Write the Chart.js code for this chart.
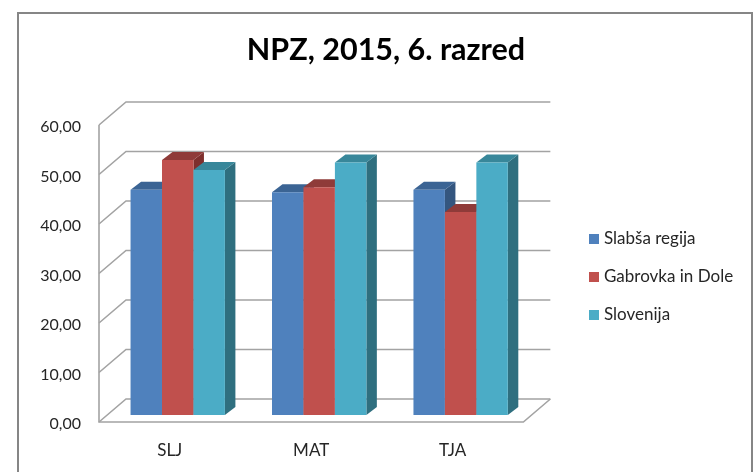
<!DOCTYPE html>
<html><head><meta charset="utf-8">
<style>html,body{margin:0;padding:0;background:#fff}canvas{display:block}</style>
<script src="https://cdn.jsdelivr.net/npm/chart.js@4"></script>
</head><body><canvas id="c" width="753" height="472"></canvas>
<script>
const categories = ['SLJ','MAT','TJA'];
const seriesNames = ['Slabša regija','Gabrovka in Dole','Slovenija'];
const slabsaRegija = [45.5,45.0,45.5];
const gabrovkaInDole = [51.5,46.0,41.0];
const slovenija = [49.5,51.0,51.0];
const frontColors = ['#4F81BD','#C0504D','#4BACC6'];
const topColors = ['#3B6494','#8F3B39','#38879A'];
const sideColors = ['#34567F','#7E2F2D','#2F6F7F'];

const WALL_DX = 27, WALL_DY = -23;
const BAR_DX = 8, BAR_DY = -7;
const DEPTH_DX = 10.5, DEPTH_DY = -8;
const GRID = '#A3A3A3', TEXT = '#262626', FONT = 'Lato';

function legendSwatch(color) {
  const s = document.createElement('canvas');
  s.width = 10; s.height = 10;
  const g = s.getContext('2d');
  g.fillStyle = color; g.fillRect(0, 0, 10, 10);
  return s;
}

const depth3d = {
  id: 'depth3d',
  afterLayout(chart) {
    const l = chart.legend;
    l.left = 571.5; l.right = 753; l.top = 209; l.bottom = 472;
    const t = chart.titleBlock;
    t.left = 0; t.right = 772;
  },
  beforeDraw(chart) {
    const c = chart.ctx;
    c.save();
    c.strokeStyle = '#868686'; c.lineWidth = 2;
    c.beginPath();
    c.moveTo(18, 472); c.lineTo(18, 13); c.lineTo(752, 13); c.lineTo(752, 472);
    c.stroke();
    c.restore();
  },
  beforeDatasetsDraw(chart) {
    const c = chart.ctx, a = chart.chartArea, y = chart.scales.y;
    c.save();
    c.strokeStyle = GRID; c.lineWidth = 1.6;
    y.ticks.forEach(t => {
      const py = y.getPixelForValue(t.value);
      c.beginPath();
      c.moveTo(a.left, py);
      c.lineTo(a.left + WALL_DX, py + WALL_DY);
      c.lineTo(a.right + WALL_DX, py + WALL_DY);
      c.stroke();
    });
    c.beginPath();
    c.moveTo(a.left, a.top); c.lineTo(a.left, a.bottom); c.lineTo(a.right, a.bottom);
    c.lineTo(a.right + WALL_DX, a.bottom + WALL_DY);
    c.stroke();
    c.restore();
    // Painter's order: left-most series first, so later bars overlap its side face.
    chart.data.datasets.forEach((ds, i) => {
      const meta = chart.getDatasetMeta(i);
      c.save();
      c.translate(BAR_DX, BAR_DY);
      meta.data.forEach(b => {
        const l = b.x - b.width / 2, r = b.x + b.width / 2;
        c.fillStyle = sideColors[i];
        c.beginPath();
        c.moveTo(r, b.y); c.lineTo(r + DEPTH_DX, b.y + DEPTH_DY);
        c.lineTo(r + DEPTH_DX, b.base + DEPTH_DY); c.lineTo(r, b.base);
        c.closePath(); c.fill();
        c.fillStyle = topColors[i];
        c.beginPath();
        c.moveTo(l, b.y); c.lineTo(l + DEPTH_DX, b.y + DEPTH_DY);
        c.lineTo(r + DEPTH_DX, b.y + DEPTH_DY); c.lineTo(r, b.y);
        c.closePath(); c.fill();
      });
      meta.controller.draw();
      c.restore();
    });
  },
  beforeDatasetDraw() { return false; }
};

new Chart(document.getElementById('c'), {
  type: 'bar',
  plugins: [depth3d],
  data: {
    labels: categories,
    datasets: [
      {label: seriesNames[0], data: slabsaRegija, backgroundColor: frontColors[0]},
      {label: seriesNames[1], data: gabrovkaInDole, backgroundColor: frontColors[1]},
      {label: seriesNames[2], data: slovenija, backgroundColor: frontColors[2]}
    ]
  },
  options: {
    responsive: false, animation: false,
    layout: {padding: {right: 58}},
    datasets: {bar: {categoryPercentage: 0.667, barPercentage: 1}},
    plugins: {
      tooltip: {enabled: false},
      title: {display: true, text: 'NPZ, 2015, 6. razred', color: '#000',
        font: {family: FONT, size: 30.5, weight: 'bold', lineHeight: 1.2},
        padding: {top: 32, bottom: 56.4}},
      legend: {position: 'right', align: 'start',
        labels: {boxWidth: 10, boxHeight: 10, padding: 21, color: TEXT,
          usePointStyle: true, pointStyleWidth: 3,
          font: {family: FONT, size: 17},
          generateLabels(chart) {
            const items = Chart.defaults.plugins.legend.labels.generateLabels(chart);
            items.forEach(it => { it.pointStyle = legendSwatch(frontColors[it.datasetIndex]); });
            return items;
          }}}
    },
    scales: {
      x: {
        grid: {display: false}, border: {display: false},
        ticks: {color: TEXT, padding: 10, font: {family: FONT, size: 17}, maxRotation: 0},
        afterFit(s) { s.height = 50; }
      },
      y: {
        min: 0, max: 60,
        grid: {display: false}, border: {display: false},
        ticks: {stepSize: 10, color: TEXT, padding: 10, labelOffset: 2, font: {family: FONT, size: 16},
          callback: v => v.toFixed(2).replace('.', ',')},
        afterFit(s) { s.width = 99; }
      }
    }
  }
});
</script></body></html>
